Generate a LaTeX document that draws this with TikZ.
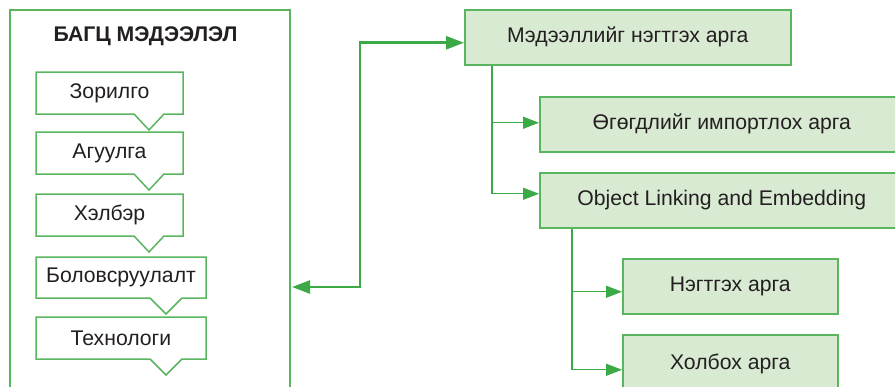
\documentclass[tikz,border=0pt]{standalone}
\usepackage{fontspec}
\setmainfont{Liberation Sans}
\usetikzlibrary{arrows.meta,calc}
\definecolor{gline}{HTML}{5AB65E}
\definecolor{gfill}{HTML}{D9EAD3}
\definecolor{garrow}{HTML}{3BAA46}
\definecolor{txt}{HTML}{231F20}
\begin{document}
\begin{tikzpicture}[x=1pt,y=-1pt,
  lbl/.style={text=txt, font=\fontsize{21.2}{24}\selectfont, inner sep=0pt},
  gbox/.style={draw=gline, line width=1.5pt, fill=gfill, text=txt,
    font=\fontsize{21.2}{24}\selectfont, inner sep=0pt, anchor=north west},
  callout/.style={draw=gline, line width=1.5pt, fill=white, line join=miter},
  thinconn/.style={draw=garrow, line width=1.4pt, -{Triangle[length=16pt,width=12pt]}},
  thickconn/.style={draw=garrow, line width=2.6pt, {Triangle[length=18pt,width=13pt]}-{Triangle[length=18pt,width=13pt]}}
]
\useasboundingbox (0,0) rectangle (895,386);
\clip (0,0) rectangle (895,386);

% left panel
\node[draw=gline, line width=1.5pt, minimum width=280pt, minimum height=400pt,
  anchor=north west, inner sep=0pt] (outer) at (9,9) {};
\node[lbl, font=\fontsize{21.2}{24}\selectfont\bfseries] (title) at (145.5,36) {БАГЦ МЭДЭЭЛЭЛ};

\draw[callout] (36,72) -- (183,72) -- (183,114) -- (164,114) -- (149,130) -- (134,114) -- (36,114) -- cycle;
\node[lbl] (c1) at (109.5,93) {Зорилго};
\draw[callout] (36,132) -- (183,132) -- (183,174) -- (164,174) -- (149,190) -- (134,174) -- (36,174) -- cycle;
\node[lbl] (c2) at (109.5,153) {Агуулга};
\draw[callout] (36,194) -- (183,194) -- (183,236) -- (164,236) -- (149,252) -- (134,236) -- (36,236) -- cycle;
\node[lbl] (c3) at (109.5,215) {Хэлбэр};
\draw[callout] (36,257) -- (206,257) -- (206,298) -- (182,298) -- (166,314) -- (150,298) -- (36,298) -- cycle;
\node[lbl] (c4) at (121,277.5) {Боловсруулалт};
\draw[callout] (36,317) -- (206,317) -- (206,359) -- (182,359) -- (166,375) -- (150,359) -- (36,359) -- cycle;
\node[lbl] (c5) at (121,338) {Технологи};

% right side boxes
\node[gbox, minimum width=326pt, minimum height=55pt] (m1) at (464,9) {Мэдээллийг нэгтгэх арга};
\node[gbox, minimum width=364pt, minimum height=55pt] (m2) at (539,96) {Өгөгдлийг импортлох арга};
\node[gbox, minimum width=364pt, minimum height=55pt] (m3) at (539,172) {Object Linking and Embedding};
\node[gbox, minimum width=215pt, minimum height=55pt] (m4) at (622,258) {Нэгтгэх арга};
\node[gbox, minimum width=215pt, minimum height=58pt] (m5) at (622,334) {Холбох арга};

% connectors
\coordinate (b1) at (492,0);
\coordinate (b2) at (572,0);
\draw[thinconn] (m1.south -| b1) |- ([yshift=1.5pt]m2.west);
\draw[thinconn] (m1.south -| b1) |- ([yshift=6.5pt]m3.west);
\draw[thinconn] (m3.south -| b2) |- ([yshift=-5.5pt]m4.west);
\draw[thinconn] (m3.south -| b2) |- ([yshift=-6pt]m5.west);

\coordinate (aL) at (292,287);
\draw[thickconn] (aL) -- ++(68,0) |- ([yshift=-5.5pt]m1.west);
\end{tikzpicture}
\end{document}
